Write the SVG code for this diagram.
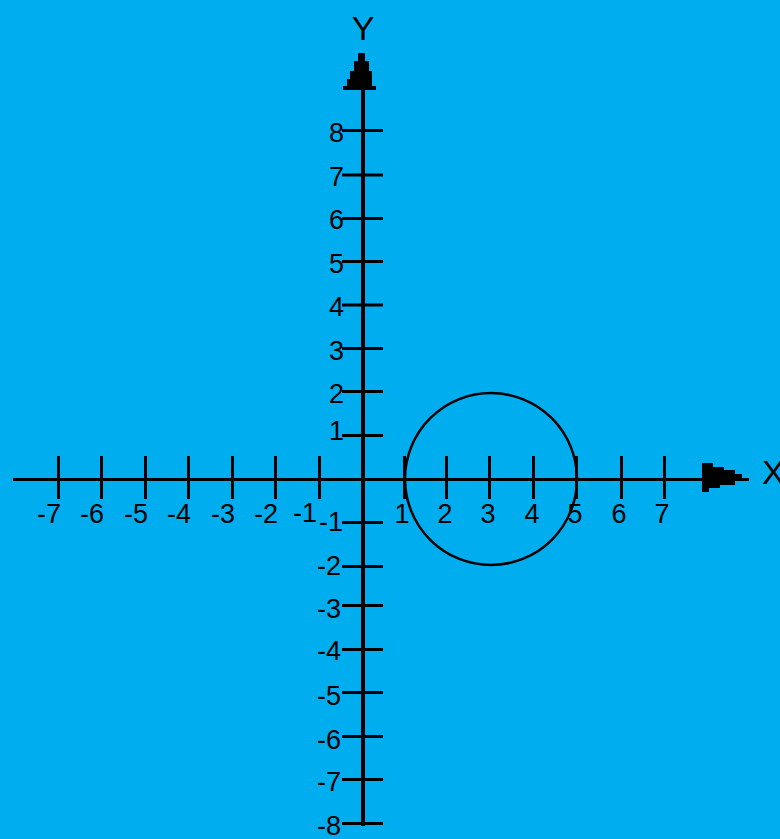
<svg xmlns="http://www.w3.org/2000/svg" width="780" height="839" viewBox="0 0 780 839">
<style>
.ax{stroke:#000;fill:none}
.tk{stroke:#000;stroke-width:3;fill:none}
.lb{font-family:"Liberation Sans",Arial,sans-serif;font-size:27px;fill:#000}
.xl{text-anchor:end}
.xp{text-anchor:middle}
.yl{text-anchor:end}
.big{font-family:"Liberation Sans",Arial,sans-serif;font-size:34px;fill:#000}
</style>
<rect width="780" height="839" fill="#00AEEF"/>
<g id="connectors">
<line class="ax" x1="13" y1="479.5" x2="745" y2="479.5" stroke-width="3"/>
<line class="ax" x1="363" y1="60" x2="363" y2="826" stroke-width="4"/>
<polygon id="x-arrow" fill="#000" points="702,463 713,463 713,467 724,467 724,470 735,470 735,474 742,474 742,478 749,478 749,481 735,481 735,485 720,485 720,488 709,488 709,492 702,492"/>
<polygon id="y-arrow" fill="#000" points="358,53 365,53 365,61 369,61 369,71 372,71 372,86 376,86 376,90 343,90 343,86 347,86 347,79 350,79 350,71 354,71 354,61 358,61"/>
</g>
<g id="x-ticks">
<path class="tk" d="M58.5 456V499M101.5 456V499M145.5 456V499M188.5 456V499M232.5 456V499M275.5 456V499M319.5 456V499M404.5 456V499M446.5 456V499M489.5 456V499M533.5 456V499M576.5 456V499M621.5 456V499M664.5 456V499"/>
</g>
<g id="y-ticks">
<path class="tk" d="M342 130.5H383M342 175H383M342 218.5H383M342 261.5H383M342 305H383M342 348.5H383M342 391.5H383M342 435.5H383M342 522.5H383M342 566.5H383M342 605.5H383M342 649.5H383M342 692.5H383M342 736.5H383M342 779.5H383M342 823.5H383"/>
</g>
<g id="x-labels">
<text class="lb xl" x="61" y="523">-7</text>
<text class="lb xl" x="104" y="523">-6</text>
<text class="lb xl" x="148" y="523">-5</text>
<text class="lb xl" x="191" y="523">-4</text>
<text class="lb xl" x="235" y="523">-3</text>
<text class="lb xl" x="278" y="523">-2</text>
<text class="lb xl" x="317" y="522">-1</text>
<text class="lb xp" x="402" y="523">1</text>
<text class="lb xp" x="445" y="523">2</text>
<text class="lb xp" x="488" y="523">3</text>
<text class="lb xp" x="532" y="523">4</text>
<text class="lb xp" x="575" y="523">5</text>
<text class="lb xp" x="619" y="523">6</text>
<text class="lb xp" x="662" y="523">7</text>
</g>
<g id="y-labels">
<text class="lb yl" x="344" y="142">8</text>
<text class="lb yl" x="344" y="186">7</text>
<text class="lb yl" x="344" y="229">6</text>
<text class="lb yl" x="344" y="273">5</text>
<text class="lb yl" x="344" y="316">4</text>
<text class="lb yl" x="344" y="360">3</text>
<text class="lb yl" x="344" y="403">2</text>
<text class="lb yl" x="344" y="440">1</text>
<text class="lb yl" x="343" y="531">-1</text>
<text class="lb yl" x="341" y="575">-2</text>
<text class="lb yl" x="341" y="618">-3</text>
<text class="lb yl" x="341" y="660">-4</text>
<text class="lb yl" x="341" y="705">-5</text>
<text class="lb yl" x="341" y="749">-6</text>
<text class="lb yl" x="341" y="791">-7</text>
<text class="lb yl" x="341" y="835">-8</text>
</g>
<g id="axis-names">
<text class="big" x="363" y="40" text-anchor="middle">Y</text>
<text class="big" x="762" y="484">X</text>
</g>
<g id="circle">
<circle cx="491" cy="479" r="86" fill="none" stroke="#000" stroke-width="2.5"/>
</g>
</svg>
